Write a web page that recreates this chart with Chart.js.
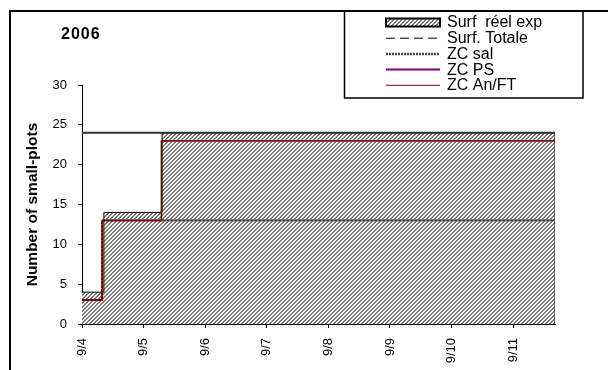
<!DOCTYPE html>
<html>
<head>
<meta charset="utf-8">
<script src="https://cdn.jsdelivr.net/npm/chart.js@4/dist/chart.umd.min.js"></script>
<style>
  html, body { margin: 0; padding: 0; background: #fff; }
  #wrap { width: 608px; height: 370px; position: relative; }
</style>
</head>
<body>
<div id="wrap"><canvas id="c" width="608" height="370"></canvas></div>
<script>
// ---------- data (x = days after 9/4, 0h) ----------
const chartTitle = '2006';
const yAxisTitle = 'Number of small-plots';
const tickLabels = ['9/4', '9/5', '9/6', '9/7', '9/8', '9/9', '9/10', '9/11'];
const xMax = 7.68;
const yMax = 30;

const surfReelTimes  = [0, 0.355, 1.30, 7.68, 7.68];
const surfReelValues = [4, 14, 24, 24, 0];

const surfTotaleTimes  = [0, 7.68];
const surfTotaleValues = [24, 24];

const zcSalTimes  = [0, 0.325, 1.30, 7.68];
const zcSalValues = [3, 13, 13, 13];

const zcPsTimes  = [0, 0.33, 1.29, 7.68];
const zcPsValues = [3, 13, 23, 23];

const zcAnFtTimes  = [0, 0.33, 1.29, 7.68];
const zcAnFtValues = [3, 13, 23, 23];

const seriesLabels = ['Surf  réel exp', 'Surf. Totale', 'ZC sal', 'ZC PS', 'ZC An/FT'];

// ---------- helpers ----------
const pts = (xs, ys) => xs.map((x, i) => ({ x: x, y: ys[i] }));
const FONT = '"Liberation Sans", Arial, Helvetica, sans-serif';

const canvas = document.getElementById('c');
const ctx0 = canvas.getContext('2d');
function makeHatch() {
  const pc = document.createElement('canvas');
  pc.width = 4; pc.height = 4;
  const p = pc.getContext('2d');
  p.fillStyle = '#ffffff'; p.fillRect(0, 0, 4, 4);
  p.fillStyle = '#7a7a7a';
  for (let y = 0; y < 4; y++) for (let x = 0; x < 4; x++) {
    if (((x + y) % 4) < 2) p.fillRect(x, y, 1, 1);
  }
  return ctx0.createPattern(pc, 'repeat');
}
const hatch = makeHatch();

// ---------- decorations: frame, title, legend ----------
const decorPlugin = {
  id: 'decor',
  afterDraw(chart) {
    const ctx = chart.ctx;
    ctx.save();
    ctx.strokeStyle = '#000';
    ctx.lineWidth = 2;
    ctx.beginPath();
    ctx.moveTo(10, 370); ctx.lineTo(10, 11); ctx.lineTo(608, 11);
    ctx.stroke();
    // legend box
    ctx.lineWidth = 1.5;
    ctx.beginPath();
    ctx.moveTo(344.5, 11); ctx.lineTo(344.5, 98); ctx.lineTo(583, 98); ctx.lineTo(583, 11);
    ctx.stroke();

    // title
    ctx.fillStyle = '#000';
    ctx.font = 'bold 16px ' + FONT;
    ctx.textBaseline = 'middle';
    ctx.textAlign = 'left';
    try { ctx.letterSpacing = '1px'; } catch (e) {}
    ctx.fillText(chartTitle, 61, 34.5);
    try { ctx.letterSpacing = '0px'; } catch (e) {}

    // legend
    const x0 = 386, x1 = 440, tx = 447;
    const y0 = 22.5, dy = 15.7;
    ctx.font = '16px ' + FONT;
    seriesLabels.forEach((lab, i) => {
      const y = y0 + i * dy;
      ctx.save();
      if (i === 0) {
        ctx.fillStyle = hatch;
        ctx.fillRect(x0, y - 4, x1 - x0, 8);
        ctx.strokeStyle = '#000'; ctx.lineWidth = 2;
        ctx.strokeRect(x0, y - 4, x1 - x0, 8);
      } else {
        ctx.beginPath();
        ctx.moveTo(x0, y); ctx.lineTo(x1, y);
        if (i === 1) { ctx.strokeStyle = '#000'; ctx.lineWidth = 1; ctx.setLineDash([9, 5]); }
        if (i === 2) { ctx.strokeStyle = '#444'; ctx.lineWidth = 2.5; ctx.setLineDash([2, 1]); }
        if (i === 3) { ctx.strokeStyle = '#800080'; ctx.lineWidth = 2; }
        if (i === 4) { ctx.strokeStyle = '#800000'; ctx.lineWidth = 1; }
        ctx.stroke();
      }
      ctx.restore();
      ctx.fillStyle = '#000';
      ctx.textBaseline = 'middle';
      ctx.textAlign = 'left';
      ctx.fillText(lab, tx, y + 0.5);
    });
    ctx.restore();
  }
};

const common = { pointRadius: 0, pointHoverRadius: 0, stepped: 'before', tension: 0 };

new Chart(canvas, {
  type: 'line',
  data: {
    datasets: [
      Object.assign({}, common, {
        label: seriesLabels[0], data: pts(surfReelTimes, surfReelValues),
        borderColor: '#000', borderWidth: 1, backgroundColor: hatch, fill: 'origin', order: 5
      }),
      Object.assign({}, common, {
        label: seriesLabels[1], data: pts(surfTotaleTimes, surfTotaleValues),
        borderColor: '#333', borderWidth: 2, fill: false, order: 4
      }),
      Object.assign({}, common, {
        label: seriesLabels[2], data: pts(zcSalTimes, zcSalValues),
        borderColor: '#333', borderWidth: 2, borderDash: [3, 1], fill: false, order: 3
      }),
      Object.assign({}, common, {
        label: seriesLabels[3], data: pts(zcPsTimes, zcPsValues),
        borderColor: '#800080', borderWidth: 1, fill: false, order: 2
      }),
      Object.assign({}, common, {
        label: seriesLabels[4], data: pts(zcAnFtTimes, zcAnFtValues),
        borderColor: '#800000', borderWidth: 1.6, fill: false, order: 1
      })
    ]
  },
  options: {
    responsive: false,
    animation: false,
    devicePixelRatio: 1,
    layout: { padding: { left: 23, top: 85, right: 53, bottom: 0 } },
    plugins: {
      legend: { display: false },
      title: { display: false },
      tooltip: { enabled: false }
    },
    scales: {
      x: {
        type: 'linear',
        min: 0,
        max: xMax,
        afterBuildTicks: (scale) => { scale.ticks = tickLabels.map((_, i) => ({ value: i })); },
        afterFit: (scale) => { scale.height = 46; },
        ticks: {
          autoSkip: false,
          maxRotation: 90,
          minRotation: 90,
          padding: 10,
          color: '#000',
          font: { family: FONT, size: 13 },
          callback: (v) => tickLabels[v]
        },
        grid: { drawOnChartArea: false, drawTicks: true, tickLength: 4, color: '#000', lineWidth: 1 },
        border: { display: true, color: '#000', width: 1 }
      },
      y: {
        min: 0,
        max: yMax,
        afterFit: (scale) => { scale.width = 59; },
        ticks: {
          stepSize: 5,
          padding: 11,
          color: '#000',
          font: { family: FONT, size: 13 }
        },
        title: {
          display: true,
          text: yAxisTitle,
          color: '#000',
          font: { family: FONT, size: 15.5, weight: 'bold' },
          padding: { top: 0, bottom: 0 }
        },
        grid: { drawOnChartArea: false, drawTicks: true, tickLength: 4, color: '#000', lineWidth: 1 },
        border: { display: true, color: '#000', width: 1 }
      }
    }
  },
  plugins: [decorPlugin]
});
</script>
</body>
</html>
